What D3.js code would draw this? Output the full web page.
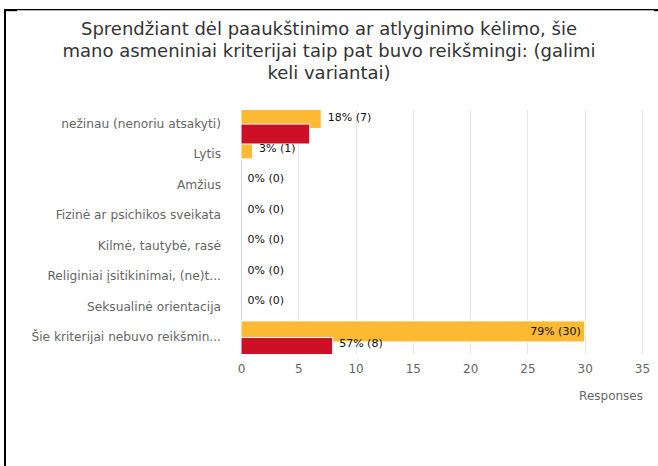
<!DOCTYPE html>
<html>
<head>
<meta charset="utf-8">
<script src="https://cdn.jsdelivr.net/npm/d3@7"></script>
<style>
  html, body { margin: 0; padding: 0; background: #fff; }
  svg { display: block; }
</style>
</head>
<body>
<svg id="chart" width="658" height="466"></svg>
<script>
// Survey answers (multi-choice question)
const categories = [
  "nežinau (nenoriu atsakyti)",
  "Lytis",
  "Amžius",
  "Fizinė ar psichikos sveikata",
  "Kilmė, tautybė, rasė",
  "Religiniai įsitikinimai, (ne)t...",
  "Seksualinė orientacija",
  "Šie kriterijai nebuvo reikšmin..."
];
const seriesACounts = [7, 1, 0, 0, 0, 0, 0, 30];
const seriesAPercent = [18, 3, 0, 0, 0, 0, 0, 79];
const seriesBCounts = [6, 0, 0, 0, 0, 0, 0, 8];
const seriesBPercent = [43, 0, 0, 0, 0, 0, 0, 57];
const xTicks = [0, 5, 10, 15, 20, 25, 30, 35];
const titleLines = [
  "Sprendžiant dėl paaukštinimo ar atlyginimo kėlimo, šie",
  "mano asmeniniai kriterijai taip pat buvo reikšmingi: (galimi",
  "keli variantai)"
];
const xAxisTitle = "Responses";

const FONT = "'DejaVu Sans', Verdana, sans-serif";
const svg = d3.select("#chart");

// frame lines
const frame = svg.append("g").attr("fill", "#000");
frame.append("rect").attr("x", 4).attr("y", 9).attr("width", 654).attr("height", 1.3);
frame.append("rect").attr("x", 4).attr("y", 9).attr("width", 2).attr("height", 457);
frame.append("rect").attr("x", 4).attr("y", 9).attr("width", 13).attr("height", 2.2);
frame.append("rect").attr("x", 654).attr("y", 9).attr("width", 4).attr("height", 2.2);

// title
const title = svg.append("text")
  .attr("x", 329).attr("y", 35)
  .attr("text-anchor", "middle")
  .style("font-family", FONT).style("font-size", "18px").attr("fill", "#333");
titleLines.forEach((t, i) => {
  title.append("tspan").attr("x", 329).attr("dy", i === 0 ? 0 : 22).text(t);
});

// plot area
const plot = { left: 241, right: 642, top: 110, bottom: 354 };

const x = d3.scaleLinear().domain([0, 35]).range([plot.left, plot.right]);
const y = d3.scaleBand().domain(categories).range([plot.top, plot.bottom]).padding(0);
const step = y.step();

svg.append("defs").append("clipPath").attr("id", "plotClip")
  .append("rect")
  .attr("x", plot.left).attr("y", plot.top)
  .attr("width", plot.right - plot.left + 2).attr("height", plot.bottom - plot.top);

// vertical grid lines
svg.append("g")
  .selectAll("line")
  .data(xTicks.filter(d => d > 0))
  .join("line")
  .attr("x1", d => Math.round(x(d)) + 0.5).attr("x2", d => Math.round(x(d)) + 0.5)
  .attr("y1", plot.top).attr("y2", plot.bottom)
  .attr("stroke", "#e6e6e6").attr("stroke-width", 1);

// y axis line
svg.append("line")
  .attr("x1", plot.left + 0.5).attr("x2", plot.left + 0.5)
  .attr("y1", plot.top).attr("y2", plot.bottom)
  .attr("stroke", "#ccd6eb");

// x axis tick labels
const xAxis = d3.axisBottom(x).tickValues(xTicks).tickSize(0).tickPadding(0);
const xg = svg.append("g").attr("transform", `translate(0,${plot.bottom + 10})`).call(xAxis);
xg.select(".domain").remove();
xg.selectAll("text")
  .style("font-family", FONT).style("font-size", "12px").attr("fill", "#666");

svg.append("text")
  .attr("x", 643).attr("y", 400)
  .attr("text-anchor", "end")
  .style("font-family", FONT).style("font-size", "12px").attr("fill", "#666")
  .text(xAxisTitle);

// category labels
const yAxis = d3.axisLeft(y).tickSize(0).tickPadding(0);
const yg = svg.append("g").attr("transform", `translate(221,-1.3)`).call(yAxis);
yg.select(".domain").remove();
yg.selectAll("text")
  .style("font-family", FONT).style("font-size", "12.2px").attr("fill", "#666");

// bars
const seriesList = [
  { counts: seriesACounts, pct: seriesAPercent, color: "#fbb934", off: -0.085, h: 0.69 },
  { counts: seriesBCounts, pct: seriesBPercent, color: "#cc1126", off: 0.46, h: 0.655 }
];
const bars = svg.append("g").attr("clip-path", "url(#plotClip)");
seriesList.forEach(s => {
  bars.append("g")
    .selectAll("rect")
    .data(categories.map((c, i) => ({ c, v: s.counts[i] })))
    .join("rect")
    .attr("x", x(0))
    .attr("y", d => y(d.c) + s.off * step)
    .attr("width", d => x(d.v) - x(0))
    .attr("height", s.h * step)
    .attr("fill", s.color)
    .attr("stroke", d => d.v > 0 ? "#fff" : "none")
    .attr("stroke-width", 1);
});

// value labels, skipping any that would collide with one already placed
const placed = [];
const labelLayer = svg.append("g");
const PAD = 4;
seriesList.forEach(s => {
  categories.forEach((c, i) => {
    const v = s.counts[i];
    const txt = `${s.pct[i]}% (${v})`;
    const t = labelLayer.append("text")
      .style("font-family", FONT).style("font-size", "11px").attr("fill", "#111")
      .attr("dominant-baseline", "central")
      .text(txt);
    const w = t.node().getComputedTextLength();
    const hgt = 12;
    let cy = y(c) + (s.off + s.h / 2) * step;
    cy = Math.min(cy, plot.bottom - hgt / 2 - 5);
    let lx = x(v) + 6.5;
    if (lx + w + 6 > plot.right) lx = x(v) - 4 - w;
    const box = { x0: lx - PAD, x1: lx + w + PAD, y0: cy - hgt / 2 - PAD, y1: cy + hgt / 2 + PAD };
    const hit = placed.some(b => b.x0 < box.x1 && box.x0 < b.x1 && b.y0 < box.y1 && box.y0 < b.y1);
    if (hit) { t.remove(); return; }
    placed.push(box);
    t.attr("x", lx).attr("y", cy);
  });
});
</script>
</body>
</html>
